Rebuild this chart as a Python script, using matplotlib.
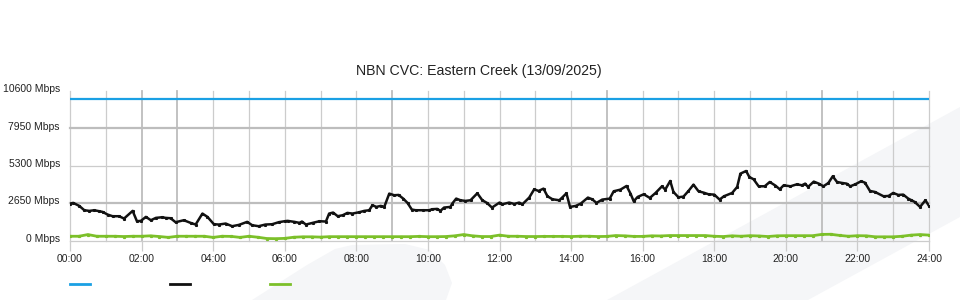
import matplotlib
matplotlib.use("Agg")
import matplotlib.pyplot as plt
from matplotlib.patches import Polygon
from matplotlib.lines import Line2D
import matplotlib.transforms as mtransforms
import numpy as np

plt.rcParams["font.family"] = ["Liberation Sans", "DejaVu Sans"]

title = "NBN CVC: Eastern Creek (13/09/2025)"
y_ticks = [0, 2650, 5300, 7950, 10600]
y_labels = [f"{v} Mbps" for v in y_ticks]
x_ticks = list(range(0, 25, 2))
x_labels = [f"{h:02d}:00" for h in x_ticks]
x_minor = list(range(0, 25, 1))

capacity_hours = [0, 24]
capacity_mbps = [10000, 10000]

usage_hours = [
    0.00, 0.09, 0.26, 0.40, 0.54, 0.68, 0.82, 0.91, 1.05, 1.19, 1.37, 1.51, 1.75, 1.87, 1.98,
    2.12, 2.26, 2.40, 2.58, 2.67, 2.81, 2.95, 3.18, 3.37, 3.51, 3.70, 3.84, 4.02, 4.16, 4.35,
    4.53, 4.72, 4.95, 5.09, 5.27, 5.46, 5.65, 5.83, 6.00,
    6.08, 6.27, 6.41, 6.48, 6.59, 6.78, 6.97, 7.15, 7.24, 7.35, 7.48, 7.62, 7.75, 7.89, 8.08,
    8.22, 8.36, 8.45, 8.56, 8.68, 8.78, 8.92, 9.06, 9.18, 9.31, 9.43, 9.55, 9.66, 9.85, 10.03,
    10.12, 10.26, 10.35, 10.45, 10.63, 10.68, 10.79, 10.91, 11.05, 11.19, 11.38, 11.52, 11.65,
    11.79, 12.00,
    12.08, 12.27, 12.41, 12.55, 12.64, 12.83, 12.97, 13.09, 13.23, 13.34, 13.48, 13.67, 13.75,
    13.87, 13.97, 14.13, 14.27, 14.47, 14.59, 14.71, 14.87, 15.08, 15.19, 15.38, 15.55, 15.66,
    15.75, 15.86, 16.03, 16.20, 16.36, 16.54, 16.63, 16.77, 16.86, 17.00, 17.14, 17.28, 17.42,
    17.56, 17.70, 17.84, 18.00,
    18.15, 18.27, 18.50, 18.64, 18.73, 18.89, 18.98, 19.10, 19.24, 19.41, 19.55, 19.71, 19.83,
    19.94, 20.13, 20.31, 20.45, 20.54, 20.62, 20.78, 20.92, 21.05, 21.19, 21.31, 21.43, 21.57,
    21.70, 21.80, 21.94, 22.10, 22.21, 22.35, 22.49, 22.73, 22.87, 23.00, 23.14, 23.28, 23.42,
    23.51, 23.60, 23.75, 23.90, 24.00,
]
usage_mbps = [
    2609, 2656, 2444, 2139, 2092, 2139, 2068, 2021, 1833, 1716, 1716, 1551, 2092, 1363, 1387,
    1669, 1433, 1598, 1645, 1598, 1575, 1292, 1433, 1245, 1128, 1903, 1669, 1151, 1128, 1198,
    1010, 1104, 1316, 1081, 1010, 1128, 1151, 1292, 1363,
    1387, 1316, 1246, 1340, 1128, 1246, 1363, 1340, 1903, 1974, 1716, 1786, 1950, 1903, 1998,
    2092, 2139, 2491, 2374, 2444, 2374, 3314, 3197, 3220, 2961, 2656, 2186, 2139, 2139, 2139,
    2209, 2233, 2092, 2327, 2374, 2609, 2961, 2844, 2797, 2844, 3337, 2844, 2656,
    2327, 2680,
    2562, 2679, 2585, 2679, 2562, 3032, 3619, 3502, 3666, 3126, 2914, 2844, 3032,
    3337, 2374, 2444, 2609, 3032, 2914, 2656, 2891, 2961, 3478, 3596, 3854, 3314,
    2773, 3079, 3267, 3008, 3361, 3831, 3596, 4207, 3431, 3055, 3102, 3502, 3948,
    3478, 3384, 3267, 3243,
    2891, 3126, 3361, 3784, 4724, 4912, 4489, 4324, 3831, 3831, 4136, 3878, 3619,
    3901, 3831, 3972, 3901, 4019, 3784, 4160, 4019, 3831, 4066, 4536, 4136, 4066,
    4019, 3831, 3972, 4183, 4089, 3502, 3431, 3126, 3149, 3361, 3220, 3243, 2961,
    2844, 2726, 2374, 2844, 2444,
]

upload_hours = np.arange(0, 24.01, 0.25)
upload_mbps = [
    300, 300, 420, 300,  300, 300, 280, 300,  300, 330, 280, 220,  300, 300, 300, 300,
    220, 300, 290, 220,  300, 230, 140, 130,  150, 230, 260, 260,  240, 270, 270, 270,
    270, 270, 270, 270,  270, 270, 270, 290,  270, 270, 280, 330,  420, 330, 280, 280,
    380, 300, 300, 280,  280, 290, 290, 290,  280, 300, 300, 280,  290, 350, 330, 290,
    290, 330, 320, 350,  350, 350, 350, 350,  300, 280, 330, 300,  340, 320, 280, 330,
    340, 340, 340, 340,  430, 440, 360, 300,  340, 330, 260, 260,  260, 300, 380, 420,
    380,
]

blue = "#1aa0e4"
green = "#7cc02a"
black = "#111111"
grid_c = "#cccccc"
grid_dark = "#bdbdbd"

W, H = 960, 300
fig = plt.figure(figsize=(9.6, 3.0), dpi=100)
fig.patch.set_facecolor("white")

def fp(pts):
    return [(x / W, 1 - y / H) for x, y in pts]

wm = "#f5f6f8"
fig.patches.append(Polygon(fp([(607, 300), (960, 107), (960, 217), (808, 300)]),
                           closed=True, transform=fig.transFigure, facecolor=wm,
                           edgecolor="none", zorder=-5))
fig.patches.append(Polygon(fp([(252, 300), (307, 265), (335, 249), (352, 245), (405, 244),
                               (430, 250), (445, 265), (452, 283), (446, 300)]),
                           closed=True, transform=fig.transFigure, facecolor=wm,
                           edgecolor="none", zorder=-5))

ax = fig.add_axes([70 / W, 1 - 240.5 / H, 859 / W, 150 / H])
ax.set_zorder(1)
ax.set_facecolor("none")
ax.set_xlim(0, 24)
ax.set_ylim(0, 10600)
for s in ax.spines.values():
    s.set_visible(False)

ax.set_yticks(y_ticks)
ax.set_yticklabels(y_labels)
ax.set_xticks(x_ticks)
ax.set_xticklabels(x_labels)
ax.set_xticks(x_minor, minor=True)
ax.tick_params(axis="y", length=0, pad=7.2, labelsize=7.5, labelcolor="#222222")
ax.tick_params(axis="x", which="major", length=7.2, width=0.9, color=grid_c, pad=2.5,
               labelsize=7.5, labelcolor="#222222")
ax.tick_params(axis="x", which="minor", length=0)

shift_up = mtransforms.ScaledTranslation(0, 2.5 / 100, fig.dpi_scale_trans)
for lab in ax.get_yticklabels():
    lab.set_transform(lab.get_transform() + shift_up)

dark_hours = [2, 3, 9, 15, 21]
for h in x_minor:
    c = grid_dark if h in dark_hours else grid_c
    lw = 1.3 if h in dark_hours else 0.9
    ax.axvline(h, color=c, lw=lw, zorder=1, clip_on=False)
for v in y_ticks[:-1]:
    dark = v in (2650, 7950)
    ax.axhline(v, color=grid_dark if dark else grid_c, lw=1.6 if dark else 0.9,
               zorder=1, clip_on=False)

ax.plot(capacity_hours, capacity_mbps, color=blue, lw=1.6, zorder=3)
ax.plot(usage_hours, usage_mbps, color=black, lw=1.8, zorder=4,
        marker="s", markersize=1.2, solid_joinstyle="round")
ax.plot(upload_hours, upload_mbps, color=green, lw=2.0, zorder=3,
        marker="s", markersize=1.3)

fig.text(479 / W, 1 - 71 / H, title, ha="center", va="center", fontsize=10.2,
         color="#222222")

handles = [Line2D([], [], color=blue, lw=2.0),
           Line2D([], [], color=black, lw=2.0),
           Line2D([], [], color=green, lw=2.0)]
fig.legend(handles, ["", "", ""], loc="center left",
           bbox_to_anchor=(69.5 / W, 1 - 285 / H), ncol=3, frameon=False,
           handlelength=2.0, handletextpad=0.8, columnspacing=6.8, fontsize=7.5,
           borderaxespad=0, borderpad=0)

fig.savefig("out.png", dpi=100, facecolor="white")
